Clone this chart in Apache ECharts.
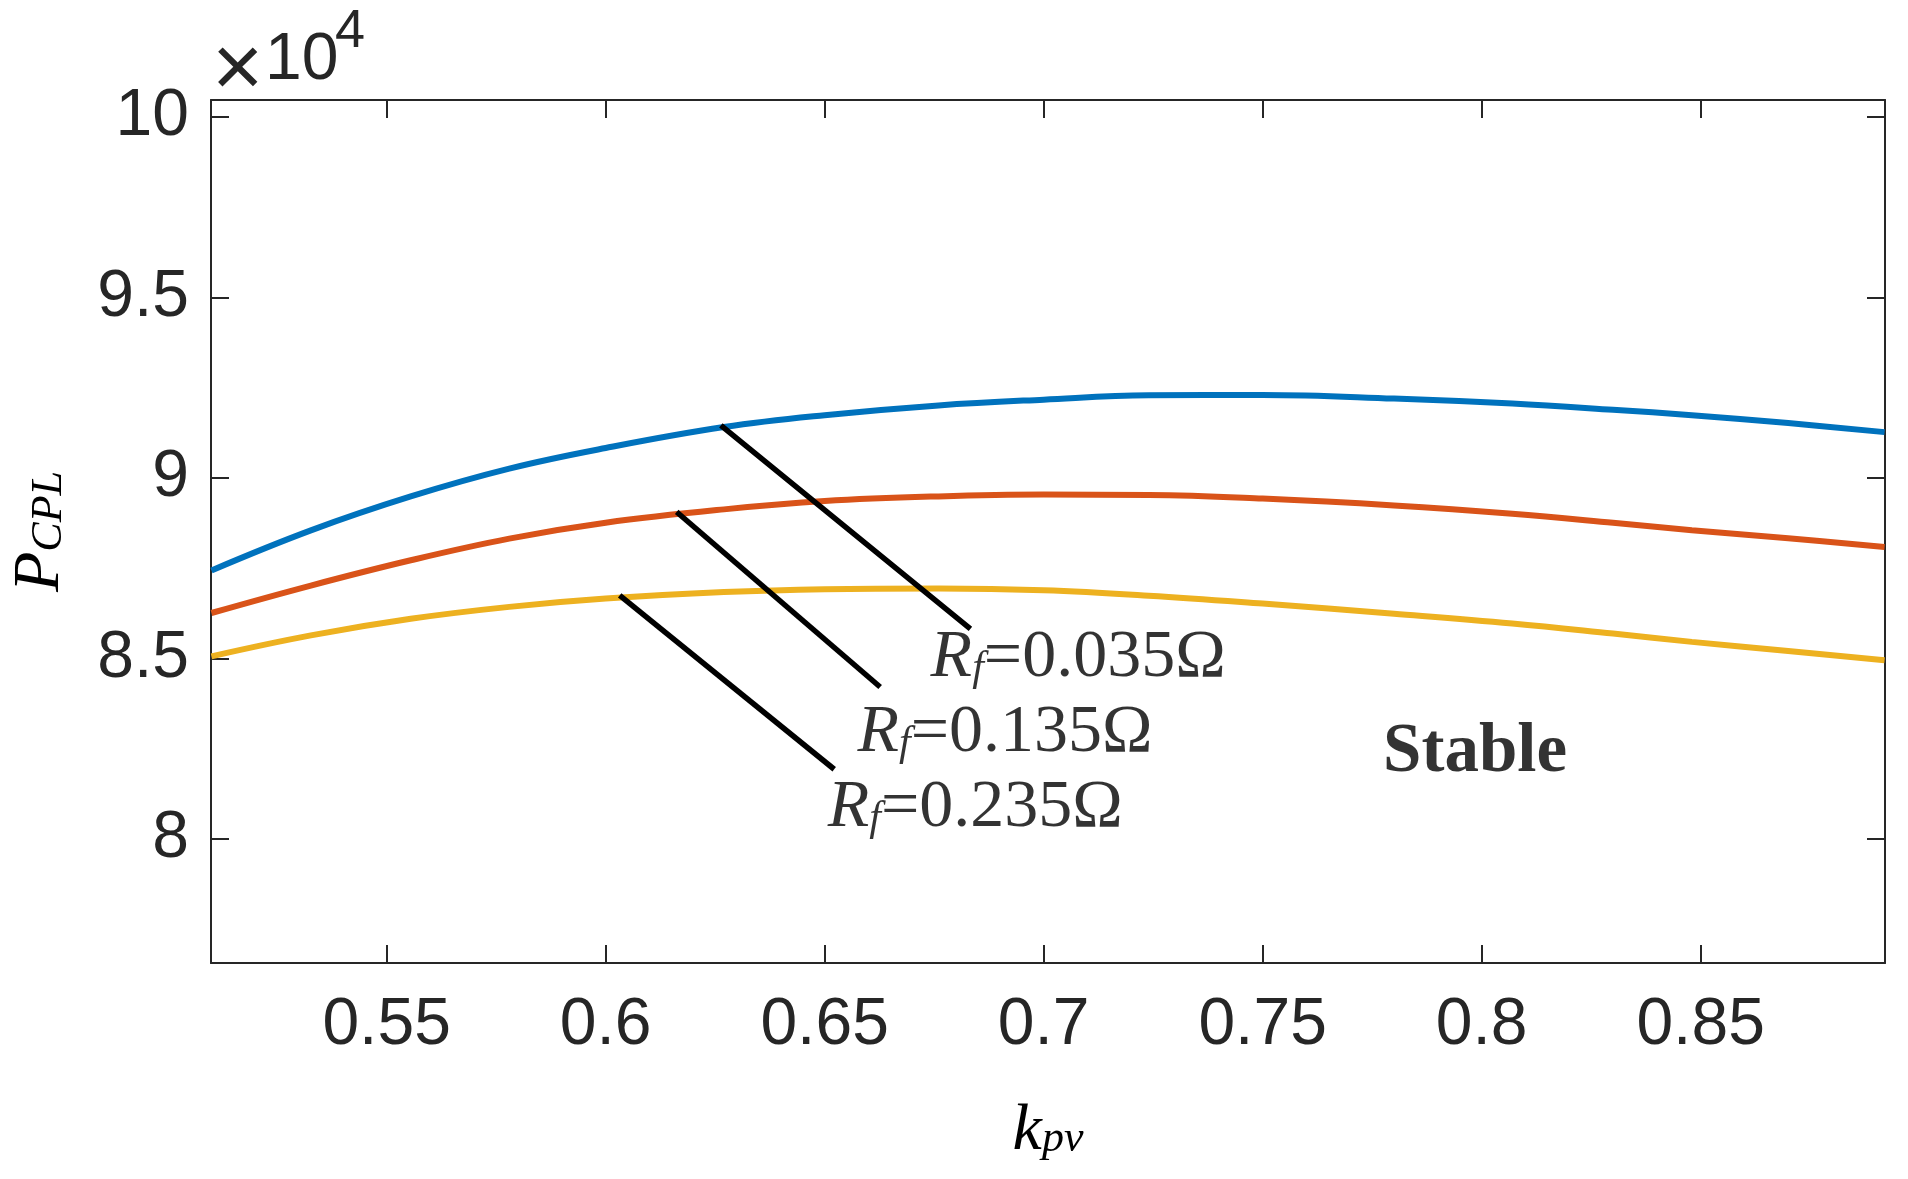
<!DOCTYPE html>
<html><head><meta charset="utf-8">
<script src="https://cdn.jsdelivr.net/npm/echarts@6/dist/echarts.min.js"></script>
<style>html,body{margin:0;padding:0;background:#fff}#c{width:1908px;height:1179px}</style>
</head><body><div id="c"></div>
<script>
// k_pv sample points and P_CPL values (in units of 10^4)
const kpv      = [0.51, 0.5327, 0.5555, 0.578, 0.60, 0.627, 0.65, 0.676, 0.70, 0.724, 0.75, 0.78, 0.807, 0.83, 0.848, 0.87, 0.892];
const pRf035   = [8.744, 8.855, 8.949, 9.026, 9.083, 9.141, 9.174, 9.201, 9.217, 9.229, 9.230, 9.220, 9.206, 9.189, 9.174, 9.152, 9.127];
const pRf135   = [8.626, 8.702, 8.772, 8.832, 8.876, 8.913, 8.936, 8.949, 8.954, 8.953, 8.943, 8.924, 8.901, 8.876, 8.855, 8.833, 8.809];
const pRf235   = [8.506, 8.564, 8.610, 8.643, 8.666, 8.684, 8.692, 8.694, 8.689, 8.674, 8.652, 8.624, 8.597, 8.569, 8.546, 8.521, 8.495];
const seriesNames = ['Rf=0.035Ω', 'Rf=0.135Ω', 'Rf=0.235Ω'];
const seriesColors = ['#0072BD', '#D95319', '#EDB120'];

// axis ranges and tick labels
const xRange = [0.5099, 0.8921];
const yRange = [7.6565, 10.047];
const xTicks = [0.55, 0.6, 0.65, 0.7, 0.75, 0.8, 0.85];
const yTicks = [8, 8.5, 9, 9.5, 10];

// annotation leader lines: [x1, y1, x2, y2]
const leader035 = [0.6268, 9.141, 0.6828, 8.587];
const leader135 = [0.6167, 8.901, 0.6622, 8.426];
const leader235 = [0.6037, 8.670, 0.6517, 8.198];

// annotation text anchors (data coords) and texts
const noteX = [0.6742, 0.6575, 0.6507, 0.7775];
const noteY = [8.5006, 8.293, 8.085, 8.2374];
const noteText = ['{r|R}{f|f}{n|=0.035Ω}', '{r|R}{f|f}{n|=0.135Ω}', '{r|R}{f|f}{n|=0.235Ω}', '{b|Stable}'];

const AX = '#262626';
const SERIF = '"Liberation Serif", "Times New Roman", serif';
const SANS = '"Liberation Sans", Arial, sans-serif';

const chart = echarts.init(document.getElementById('c'));

const curves = [pRf035, pRf135, pRf235].map((vals, i) => ({
  type: 'line', name: seriesNames[i],
  data: kpv.map((x, j) => [x, vals[j]]),
  showSymbol: false, smooth: 0.4,
  lineStyle: { color: seriesColors[i], width: 6 },
  z: 2, silent: true
}));

const leaders = [leader035, leader135, leader235].map(l => ({
  type: 'line', data: [[l[0], l[1]], [l[2], l[3]]],
  showSymbol: false, lineStyle: { color: '#000', width: 5.5, cap: 'square' }, z: 3, silent: true
}));

const notes = {
  type: 'scatter', symbolSize: 0, z: 4, silent: true,
  data: noteX.map((x, i) => ({ value: [x, noteY[i]], label: { formatter: noteText[i] } })),
  label: {
    show: true, position: 'right', distance: 0, color: '#000',
    rich: {
      r: { fontFamily: SERIF, fontStyle: 'italic', fontSize: 68, lineHeight: 68, color: '#000' },
      f: { fontFamily: SERIF, fontStyle: 'italic', fontSize: 42, lineHeight: 42, color: '#000', padding: [22, 0, 0, 0] },
      n: { fontFamily: SERIF, fontSize: 68, lineHeight: 68, color: '#000' },
      b: { fontFamily: SERIF, fontWeight: 'bold', fontSize: 69, lineHeight: 69, color: '#000' }
    }
  }
};

const baseX = {
  type: 'value', min: xRange[0], max: xRange[1],
  splitLine: { show: false },
  axisLine: { show: true, onZero: false, lineStyle: { color: AX, width: 2 } },
  axisTick: { show: true, inside: true, length: 18, customValues: xTicks, lineStyle: { color: AX, width: 2 } }
};
const baseY = {
  type: 'value', min: yRange[0], max: yRange[1],
  splitLine: { show: false },
  axisLine: { show: true, onZero: false, lineStyle: { color: AX, width: 2 } },
  axisTick: { show: true, inside: true, length: 18, customValues: yTicks, lineStyle: { color: AX, width: 2 } }
};

chart.setOption({
  animation: false,
  backgroundColor: '#fff',
  grid: { left: 207, right: 23, top: 100, bottom: 216, containLabel: false },
  xAxis: [
    Object.assign({}, baseX, {
      position: 'bottom',
      axisLabel: { customValues: xTicks, fontFamily: SANS, fontSize: 66, color: AX, margin: 30, formatter: v => String(+v.toFixed(2)) },
      name: '{k|k}{s|pv}', nameLocation: 'middle', nameGap: 136,
      nameTextStyle: { rich: {
        k: { fontFamily: SERIF, fontStyle: 'italic', fontSize: 66, lineHeight: 66, color: '#000' },
        s: { fontFamily: SERIF, fontStyle: 'italic', fontSize: 44, lineHeight: 44, color: '#000', padding: [14, 0, 0, 0] }
      } }
    }),
    Object.assign({}, baseX, { position: 'top', axisLabel: { show: false } })
  ],
  yAxis: [
    Object.assign({}, baseY, {
      position: 'left',
      axisLabel: { customValues: yTicks, fontFamily: SANS, fontSize: 66, color: AX, margin: 22, formatter: v => String(+v.toFixed(2)) },
      name: '{p|P}{s|CPL}', nameLocation: 'middle', nameGap: 137, nameRotate: 90,
      nameTextStyle: { rich: {
        p: { fontFamily: SERIF, fontStyle: 'italic', fontSize: 66, lineHeight: 66, color: '#000' },
        s: { fontFamily: SERIF, fontStyle: 'italic', fontSize: 44, lineHeight: 44, color: '#000', padding: [16, 0, 0, 0] }
      } }
    }),
    Object.assign({}, baseY, { position: 'right', axisLabel: { show: false } })
  ],
  graphic: [
    { type: 'text', x: 212, y: 28, style: { text: '×', font: '88px ' + SANS, fill: AX, verticalAlign: 'top' } },
    { type: 'text', x: 265, y: 28, style: { text: '10', font: '66px ' + SANS, fill: AX, verticalAlign: 'top' } },
    { type: 'text', x: 335, y: 5, style: { text: '4', font: '54px ' + SANS, fill: AX, verticalAlign: 'top' } }
  ],
  series: curves.concat(leaders, [notes])
});
</script></body></html>
